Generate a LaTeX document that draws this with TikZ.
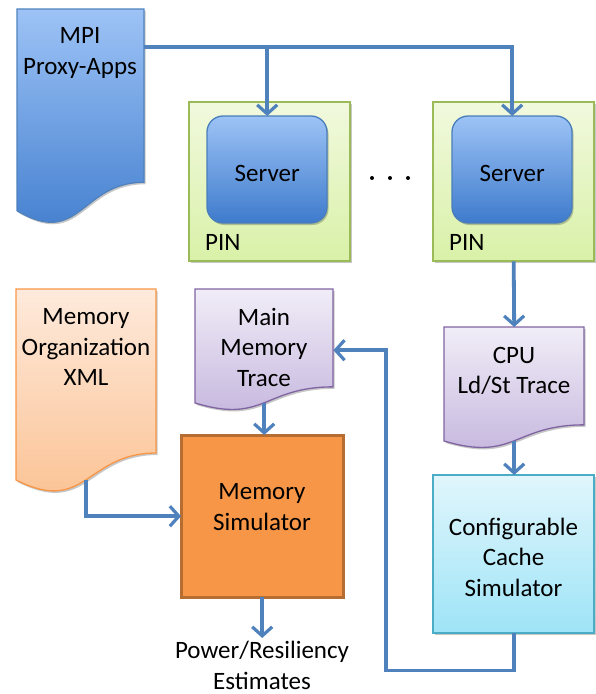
\documentclass[tikz,border=0pt]{standalone}
\usepackage{fontspec}
\setmainfont{Carlito}
\usetikzlibrary{arrows.meta,shadows,calc}

\definecolor{linkblue}{HTML}{4F81BD}
\definecolor{bluetop}{HTML}{9DC3F6}
\definecolor{bluebot}{HTML}{3E7BCC}
\definecolor{blueedge}{HTML}{4A7EBB}
\definecolor{greentop}{HTML}{F1F9DE}
\definecolor{greenbot}{HTML}{D9F1A8}
\definecolor{greenedge}{HTML}{9BBB59}
\definecolor{purptop}{HTML}{F1EDF7}
\definecolor{purpbot}{HTML}{C3B4DD}
\definecolor{purpedge}{HTML}{8064A2}
\definecolor{peachtop}{HTML}{FEEADC}
\definecolor{peachbot}{HTML}{FBC08F}
\definecolor{peachedge}{HTML}{F79646}
\definecolor{simfill}{HTML}{F79646}
\definecolor{simedge}{HTML}{B66D31}
\definecolor{cyantop}{HTML}{E1F6FC}
\definecolor{cyanbot}{HTML}{9EE4F7}
\definecolor{cyanedge}{HTML}{4BACC6}

\tikzset{
  label text/.style={font=\fontsize{25}{30.5}\selectfont, align=center, text=black, inner sep=0pt},
  conn/.style={draw=linkblue, line width=3.8pt,
    -{Straight Barb[length=9pt,width=20pt,line width=3.2pt]}},
  softshadow/.style={drop shadow={shadow xshift=1.5pt, shadow yshift=-2pt, opacity=.22, fill=black}},
  area/.style={inner sep=0pt, anchor=north west},
}

% document shape with a wavy lower edge:
% left x, top y, right x, full wave height, edge, top colour, bottom colour
\newcommand{\docfill}[7]{%
  \shade[softshadow, draw=#5, line width=1.3pt, top color=#6, bottom color=#7]
    (#1,#2) -- (#3,#2) -- (#3,{#2+0.802*#4})
    .. controls ({(#1+#3)/2},{#2+0.802*#4}) and ({(#1+#3)/2},{#2+1.1075*#4}) ..
    (#1,{#2+0.934*#4}) -- cycle;}

\begin{document}
\begin{tikzpicture}[x=1pt, y=-1pt]
\useasboundingbox (0,0) rectangle (596,694);

% ---------- MPI Proxy-Apps document ----------
\docfill{17}{9}{144}{216}{linkblue}{bluetop}{bluebot}
\node[area, minimum width=127pt, minimum height=201pt] (mpi) at (17,9) {};
\node[label text] (mpitxt) at (80,53) {MPI\\Proxy-Apps};

% ---------- PIN containers with servers ----------
\shade[softshadow, draw=greenedge, line width=1.3pt, top color=greentop, bottom color=greenbot]
  (189,102) rectangle (350,261);
\node[area, minimum width=161pt, minimum height=159pt] (pin1) at (189,102) {};
\shade[softshadow, draw=greenedge, line width=1.3pt, top color=greentop, bottom color=greenbot]
  (433,102) rectangle (594,261);
\node[area, minimum width=161pt, minimum height=159pt] (pin2) at (433,102) {};

\shade[softshadow, draw=blueedge, line width=1.3pt, top color=bluetop, bottom color=bluebot,
  rounded corners=16pt] (207,116) rectangle (327,223);
\node[area, minimum width=120pt, minimum height=107pt] (srv1) at (207,116) {};
\node[label text] at ($(srv1.center)+(0,3.5)$) {Server};
\shade[softshadow, draw=blueedge, line width=1.3pt, top color=bluetop, bottom color=bluebot,
  rounded corners=16pt] (452,116) rectangle (572,223);
\node[area, minimum width=120pt, minimum height=107pt] (srv2) at (452,116) {};
\node[label text] at ($(srv2.center)+(0,3.5)$) {Server};

\node[label text, anchor=west] at (205,242) {PIN};
\node[label text, anchor=west] at (449,242) {PIN};

\foreach \dx in {372,390,408}
  \fill[black] (\dx,178) circle (2pt);

% ---------- trace documents ----------
\docfill{444}{327}{584}{122}{purpedge}{purptop}{purpbot}
\node[area, minimum width=140pt, minimum height=114pt] (cpu) at (444,327) {};
\node[label text] at (514,371) {CPU\\Ld/St Trace};

\docfill{195}{289}{333}{122}{purpedge}{purptop}{purpbot}
\node[area, minimum width=138pt, minimum height=114pt] (mainmem) at (195,289) {};
\node[label text] at (264,347) {Main\\Memory\\Trace};

\docfill{16}{289}{156}{204.5}{peachedge}{peachtop}{peachbot}
\node[area, minimum width=140pt, minimum height=191pt] (xml) at (16,289) {};
\node[label text] at (86,347) {Memory\\Organization\\XML};

% ---------- simulators ----------
\fill[black, opacity=.22] (182.5,437) rectangle (344.5,599);
\draw[draw=simedge, line width=3pt, fill=simfill] (181,435) rectangle (343,597);
\node[area, minimum width=162pt, minimum height=162pt] (memsim) at (181,435) {};
\node[label text] at (262,507) {Memory\\Simulator};

\shade[softshadow, draw=cyanedge, line width=1.3pt, top color=cyantop, bottom color=cyanbot]
  (433,475) rectangle (594,633);
\node[area, minimum width=161pt, minimum height=158pt] (cache) at (433,475) {};
\node[label text] at (513.5,557) {Configurable\\Cache\\Simulator};

% ---------- output label ----------
\node[label text, anchor=north] (power) at (262,641) {Power/Resiliency\\Estimates};

% ---------- connectors ----------
\coordinate (bus) at ($(mpi.north east)+(0,38)$);
\draw[conn] (bus) -| (srv2.north);
\draw[conn] (bus -| srv1.north) -- (srv1.north);
\draw[conn] (pin2.south) -- (cpu.north);
\draw[conn] (cpu.south) -- (cpu.south |- cache.north);
\draw[conn] (cache.south) |- ++(-128,37) |- ($(mainmem.east)+(0,4)$);
\draw[conn] (mainmem.south) -- (mainmem.south |- memsim.north);
\draw[conn] (xml.south) |- (memsim.west);
\draw[conn] (memsim.south) -- ($(memsim.south |- power.north)+(0,-3)$);
\end{tikzpicture}
\end{document}
